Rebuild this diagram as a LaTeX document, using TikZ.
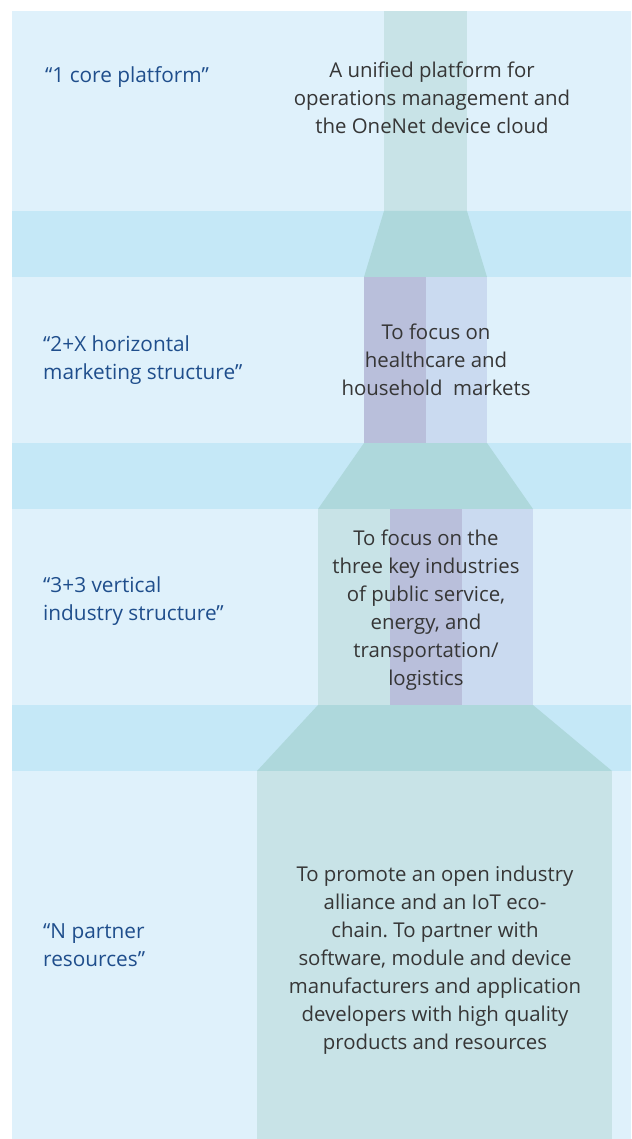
\documentclass[tikz,border=0pt]{standalone}
\usepackage{fontspec}
\setmainfont{Open Sans}
\usetikzlibrary{positioning}
\frenchspacing
\definecolor{bandlight}{HTML}{DFF1FB}
\definecolor{banddark}{HTML}{C5E8F7}
\definecolor{colteal}{HTML}{C8E3E7}
\definecolor{colfunnel}{HTML}{AED8DC}
\definecolor{colpurple}{HTML}{B9BFDB}
\definecolor{colblue}{HTML}{CADAF0}
\definecolor{labelblue}{HTML}{1F4E8C}
\definecolor{bodygray}{HTML}{363636}
\tikzset{
x=1pt,
y=-1pt,
band/.style={fill=bandlight},
gap/.style={fill=banddark},
funnel/.style={fill=colfunnel},
tier label/.style={text=labelblue, align=left, anchor=west, inner sep=0pt,
  font=\fontsize{20.8}{28}\selectfont},
tier text/.style={text=bodygray, align=center, inner sep=0pt,
  font=\fontsize{20.4}{28}\selectfont},
}

\begin{document}
\begin{tikzpicture}
        \useasboundingbox (0,0) rectangle (631,1139);
        % background bands
        \fill[band] (12,11) rectangle (631,1139);
        \fill[gap] (12,211) rectangle (631,277);
        \fill[gap] (12,443) rectangle (631,509);
        \fill[gap] (12,705) rectangle (631,771);

        % columns
        \fill[colteal] (384,11) rectangle (467,211);
        \fill[funnel] (384,211) -- (467,211) -- (487,277) -- (364,277) -- cycle;
        \fill[colpurple] (364,277) rectangle (426,443);
        \fill[colblue] (426,277) rectangle (487,443);
        \fill[funnel] (364,443) -- (487,443) -- (533,509) -- (318,509) -- cycle;
        \fill[colteal] (318,509) rectangle (390,705);
        \fill[colpurple] (390,509) rectangle (462,705);
        \fill[colblue] (462,509) rectangle (533,705);
        \fill[funnel] (318,705) -- (533,705) -- (612,771) -- (257,771) -- cycle;
        \fill[colteal] (257,771) rectangle (612,1139);

        % left labels
        \node[tier label] (core) at (45,77) {“1 core platform”};
        \node[tier label] (horiz) at (43,360) {“2+X horizontal\\marketing structure”};
        \node[tier label] (vert) at (43,601) {“3+3 vertical\\industry structure”};
        \node[tier label] (partner) at (43,945) {“N partner\\resources”};

        % descriptions
        \node[tier text] (coretext) at (432,98) {A unified platform for\\operations management and\\the OneNet device cloud};
        \node[tier text] (horiztext) at (436,360) {To focus on\\healthcare and\\household~ markets};
        \node[tier text] (verttext) at (426,610) {To focus on the\\three key industries\\of public service,\\energy, and\\transportation/\\logistics};
        \node[tier text] (partnertext) at (435,960) {To promote an open industry\\alliance and an IoT eco-\\chain. To partner with\\software, module and device\\manufacturers and application\\developers with high quality\\products and resources};
    \end{tikzpicture}
\end{document}
